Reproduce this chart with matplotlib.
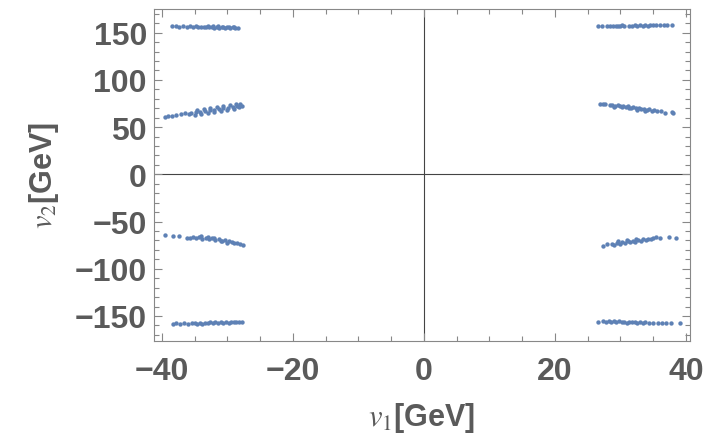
import numpy as np
import matplotlib
matplotlib.use("Agg")
import matplotlib.pyplot as plt
from matplotlib.ticker import MultipleLocator, FuncFormatter

plt.rcParams['mathtext.fontset'] = 'stix'
plt.rcParams['font.family'] = ['Liberation Sans', 'DejaVu Sans']

# scan points (v1, v2) in GeV, grouped by branch
tl_up_v1 = [-38.5, -37.9, -37.3, -36.8, -36.2, -35.7, -35.2, -34.8, -34.4, -34.0, -33.6, -33.2, -32.8, -32.4, -32.0,
            -31.6, -31.2, -30.8, -30.4, -30.0, -29.6, -29.2, -28.8, -28.4, -33.0, -32.2, -31.4, -30.6, -29.8, -29.0]
tl_up_v2 = [156.6, 156.8, 156.5, 156.7, 156.4, 156.6, 156.3, 156.7, 156.2, 156.5, 155.8, 156.4, 155.6, 156.2, 155.5,
            156.0, 155.3, 155.9, 155.2, 155.7, 155.0, 155.6, 154.9, 155.4, 157.0, 156.8, 156.6, 156.4, 156.3, 156.1]

tl_lo_v1 = [-39.5, -39.0, -38.4, -37.8, -37.1, -36.5, -35.9,
            -35.5, -34.8, -34.1, -33.4, -32.7, -32.0, -31.3, -30.6, -29.9, -29.2, -28.5, -27.8,
            -34.6, -33.6, -32.6, -31.6, -30.6, -29.6, -28.6, -28.0,
            -35.0, -34.0, -33.0, -32.0, -31.0, -30.0, -29.0, -28.2]
tl_lo_v2 = [60.5, 61.5, 62.3, 63.0, 63.6, 64.8, 64.2,
            65.0, 65.7, 66.4, 67.1, 67.8, 68.5, 69.2, 69.9, 70.6, 71.3, 72.0, 72.7,
            67.8, 68.9, 70.0, 71.2, 72.3, 73.5, 74.4, 74.0,
            63.2, 64.0, 64.8, 66.0, 67.2, 68.4, 69.6, 70.8]

bl_up_v1 = [-39.5, -38.3, -37.3, -36.2, -35.7,
            -35.2, -34.8, -34.3, -33.8, -33.3, -32.8, -32.3, -31.8, -31.3, -30.8, -30.3, -29.8,
            -34.0, -33.0, -32.0, -31.0, -30.0,
            -29.3, -28.9, -28.5, -28.1, -27.6]
bl_up_v2 = [-64.1, -65.1, -65.8, -66.9, -67.3,
            -66.0, -67.5, -66.4, -68.0, -67.0, -68.6, -67.6, -69.4, -68.4, -70.2, -69.3, -71.0,
            -65.6, -66.3, -67.0, -71.0, -72.2,
            -72.0, -73.2, -72.6, -74.0, -75.2]

bl_lo_v1 = [-38.3, -37.8, -37.2, -36.6, -36.0, -35.4,
            -35.0, -34.6, -34.2, -33.8, -33.4, -33.0, -32.6, -32.2, -31.8, -31.4,
            -31.0, -30.6, -30.2, -29.8, -29.4, -29.0, -28.6, -28.2, -27.8]
bl_lo_v2 = [-158.0, -157.6, -158.2, -157.8, -158.0, -157.5,
            -157.4, -158.2, -157.2, -158.0, -157.0, -157.8, -156.8, -157.6, -156.7, -157.4,
            -156.5, -157.2, -156.3, -157.0, -156.1, -156.8, -155.9, -156.6, -156.0]

tr_up_v1 = [26.6, 27.2, 27.9, 28.4, 28.9, 29.4, 29.7, 30.0, 30.3, 30.6, 31.4, 31.8, 32.2, 32.6, 33.0,
            33.4, 33.8, 34.2, 34.6, 35.0, 35.4, 36.0, 36.6, 37.2, 37.9]
tr_up_v2 = [156.8, 157.0, 157.1, 156.9, 157.3, 157.0, 157.6, 157.2, 157.8, 157.4, 157.5, 157.2, 157.8, 157.4, 157.9,
            157.5, 158.0, 157.6, 158.1, 157.7, 158.0, 157.9, 158.1, 158.0, 158.2]

tr_lo_v1 = [26.9, 27.3, 27.7, 28.4, 28.8, 29.2, 29.6, 30.0, 30.4, 30.8, 31.2, 31.6, 32.0, 32.4, 32.8,
            33.2, 33.6, 34.0, 34.4, 34.8, 35.2, 29.0, 30.2, 31.4, 32.6, 33.8, 35.6, 36.2, 36.8, 37.9, 38.1]
tr_lo_v2 = [74.6, 74.5, 74.4, 73.2, 73.9, 72.6, 73.4, 71.9, 72.8, 71.3, 72.0, 70.5, 71.2, 69.8, 70.4,
            69.0, 69.6, 68.0, 68.8, 67.2, 67.8, 71.5, 70.8, 69.8, 68.4, 67.0, 66.8, 67.0, 65.3, 66.0, 64.5]

br_up_v1 = [27.3, 28.0, 28.7, 29.1, 29.5, 29.9, 30.3, 30.7, 31.1, 31.5, 31.9, 32.3, 32.7, 33.1, 33.5,
            33.9, 34.3, 34.7, 35.0, 29.6, 31.0, 32.4, 35.5, 36.0, 37.4, 38.5]
br_up_v2 = [-75.6, -74.2, -73.4, -74.4, -72.6, -73.6, -71.8, -72.9, -71.0, -72.0, -70.2, -71.2, -69.5, -70.3, -68.8,
            -69.6, -68.0, -68.8, -67.4, -71.0, -69.8, -68.6, -66.7, -67.0, -66.5, -67.6]

br_lo_v1 = [26.6, 27.4, 27.8, 28.2, 28.6, 29.0, 29.4, 29.8, 30.2, 30.6, 31.0, 31.4, 31.8, 32.2, 32.6,
            33.0, 33.4, 33.8, 34.4, 35.0, 35.8, 36.4, 37.0, 37.8, 39.1]
br_lo_v2 = [-156.0, -155.6, -156.6, -155.4, -156.4, -155.6, -156.8, -155.8, -156.6, -156.0, -157.0, -156.2, -156.8,
            -156.4, -157.2, -156.6, -157.0, -156.8, -157.2, -157.0, -157.4, -157.2, -157.6, -157.4, -157.6]

v1 = np.concatenate([tl_up_v1, tl_lo_v1, bl_up_v1, bl_lo_v1, tr_up_v1, tr_lo_v1, br_up_v1, br_lo_v1])
v2 = np.concatenate([tl_up_v2, tl_lo_v2, bl_up_v2, bl_lo_v2, tr_up_v2, tr_lo_v2, br_up_v2, br_lo_v2])

fig = plt.figure(figsize=(7.06, 4.39), dpi=100)
ax = fig.add_axes([0.218, 0.222, 0.759, 0.755])

ax.axhline(0, color='#444444', lw=0.8, zorder=1)
ax.axvline(0, color='#444444', lw=0.8, zorder=1)
ax.scatter(v1, v2, s=10, color='#5E81B5', linewidths=0, zorder=2)

ax.set_xlim(-41.2, 40.6)
ax.set_ylim(-176, 175)
ax.xaxis.set_major_locator(MultipleLocator(20))
ax.xaxis.set_minor_locator(MultipleLocator(5))
ax.yaxis.set_major_locator(MultipleLocator(50))
ax.yaxis.set_minor_locator(MultipleLocator(10))

ax.tick_params(which='both', direction='in', top=True, right=True, color='#888888', width=0.8,
               labelsize=23, labelcolor='#5a5a5a')
ax.tick_params(which='major', length=6)
ax.tick_params(which='minor', length=3.5)
ax.tick_params(axis='x', which='major', pad=11)
ax.tick_params(axis='y', which='major', pad=5)

minus = FuncFormatter(lambda x, p: f"{x:.0f}".replace('-', '\u2212'))
ax.xaxis.set_major_formatter(minus)
ax.yaxis.set_major_formatter(minus)
for lbl in ax.get_xticklabels() + ax.get_yticklabels():
    lbl.set_fontweight('bold')

for sp in ax.spines.values():
    sp.set_color('#888888')
    sp.set_linewidth(0.8)

ax.set_xlabel(r'$v_1$[GeV]', fontsize=22, fontweight='bold', color='#5a5a5a', labelpad=10)
ax.set_ylabel(r'$v_2$[GeV]', fontsize=22, fontweight='bold', color='#5a5a5a', labelpad=10)

fig.savefig('out.png', dpi=100)
